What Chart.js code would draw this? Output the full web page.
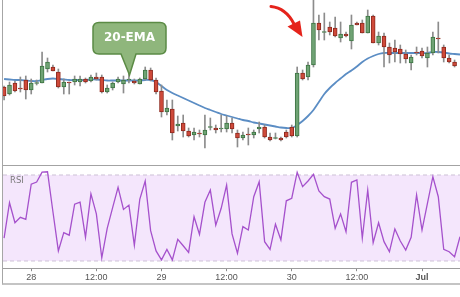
<!DOCTYPE html>
<html>
<head>
<meta charset="utf-8">
<script src="https://cdn.jsdelivr.net/npm/chart.js@4.4.1/dist/chart.umd.min.js"></script>
<style>
    html, body { margin: 0; padding: 0; background: #fff; }
    #wrap { position: relative; width: 460px; height: 297px; overflow: hidden; background: #fff; }
    #frame {
        position: absolute; left: 2px; top: -1px; width: 480px; height: 286px;
        box-sizing: border-box; border-left: 1px solid #a6a6a6; border-bottom: 2px solid #c4c4c4;
    }
    #price { position: absolute; left: 0; top: 0; }
    #rsi { position: absolute; left: 0; top: 166px; }
    #sep { position: absolute; left: 3px; top: 165px; width: 460px; height: 1px; background: #a3a3a3; }
    #rsiLabel {
        position: absolute; left: 10px; top: 175px; line-height: 10px;
        font: 8.5px "DejaVu Sans", sans-serif; color: #7a7a7a;
    }
    #notes { position: absolute; left: 0; top: 0; pointer-events: none; }
</style>
</head>
<body>
<div id="wrap">
    <canvas id="price" width="460" height="166"></canvas>
    <canvas id="rsi" width="460" height="118"></canvas>
    <div id="frame"></div>
    <div id="sep"></div>
    <div id="rsiLabel">RSI</div>
    <svg id="notes" width="460" height="297">
        <!-- 20-EMA callout -->
        <path d="M 99 22.5 H 160 Q 166 22.5 166 28.5 V 48 Q 166 54 160 54 H 136 L 129.5 75 L 121 54 H 99 Q 93 54 93 48 V 28.5 Q 93 22.5 99 22.5 Z"
              fill="#8fb67c" stroke="#5b8b45" stroke-width="1.5"/>
        <text x="129.5" y="41" text-anchor="middle" fill="#fff"
              font-family="DejaVu Sans, sans-serif" font-weight="bold" font-size="12">20-EMA</text>
        <!-- red arrow -->
        <path d="M 271 6.5 Q 286 8 294 24" fill="none" stroke="#e5231b" stroke-width="3" stroke-linecap="round"/>
        <polygon points="287.5,26.5 300,20.5 302.5,37" fill="#e5231b"/>
    </svg>
</div>

<script>
// hour offsets from 28th 00:00 (one candle per hour, last value is the right edge)
const hours = [
    -5, -4, -3, -2, -1, 0, 1, 2, 3, 4, 5, 6, 7, 8, 9, 10, 11, 12, 13, 14,
    15, 16, 17, 18, 19, 20, 21, 22, 23, 24, 25, 26, 27, 28, 29, 30, 31, 32, 33, 34,
    35, 36, 37, 38, 39, 40, 41, 42, 43, 44, 45, 46, 47, 48, 49, 50, 51, 52, 53, 54,
    55, 56, 57, 58, 59, 60, 61, 62, 63, 64, 65, 66, 67, 68, 69, 70, 71, 72, 73, 74,
    75, 76, 77, 78, 79
];

const tickHours = [0, 12, 24, 36, 48, 60, 72];
const tickLabels = ["28", "12:00", "29", "12:00", "30", "12:00", "Jul"];

const open = [
    113, 106, 117, 111.5, 120, 110, 116.5, 117, 131, 133, 128, 113, 118, 118, 118, 121, 119, 123, 123, 108,
    112, 118, 116, 120, 119, 116, 121, 130, 120, 109, 88, 91, 74, 77, 69, 65, 67, 65, 72.5, 72,
    71, 71, 77, 67, 62, 65.5, 65, 71, 73, 63, 61.5, 62, 68, 73, 64, 127, 123, 135, 177, 167.5,
    173, 172, 162, 166, 159, 177, 177, 167, 184, 157, 164, 153, 152, 151, 146, 137, 148, 149, 142, 147,
    161.5, 153, 142, 138
];
const high = [
    114, 118, 119, 123, 124, 121, 120, 148, 142, 135, 131, 121, 118, 124, 124, 122, 125, 127, 125, 115,
    118, 123, 124, 127, 121, 122, 133, 132, 122, 115, 100, 100, 84, 85, 72, 72, 70, 85, 82, 75,
    85, 84, 82, 70, 68, 72, 70, 78, 75, 67, 67, 63, 70, 75, 133, 130, 138, 202, 185, 187,
    178, 183, 178, 168, 185, 178, 180, 190, 185, 168, 167, 157, 160, 155, 150, 145, 153, 152, 153, 168,
    178, 155, 145, 140
];
const low = [
    100, 105, 108, 108, 101, 106, 115, 117, 128, 129, 112, 106, 106, 115, 114, 117, 118, 120, 107, 107,
    110, 117, 107, 117, 116, 116, 120, 119, 106, 83, 85, 60, 69, 63, 63, 60, 63, 52, 70, 67,
    68, 68, 67, 53, 60, 55, 62, 67, 62, 59, 61, 59, 62, 63, 63, 120, 120, 133, 160, 160,
    165, 163, 158, 163, 151, 175, 167, 167, 157, 155, 133, 137, 138, 137, 137, 130, 145, 142, 133, 145,
    147, 138, 137, 133
];
const close = [
    104, 115, 109, 111, 110, 117, 117, 134, 138, 129, 113, 118, 117, 121, 121, 118, 123, 121, 108, 112,
    117, 121, 120, 120.5, 117, 121, 130, 120, 108, 88, 92, 67, 76, 69, 64, 68, 66, 70, 73.5, 70,
    72, 77, 71, 62, 65, 65, 68, 73, 63, 60, 62, 60, 63, 64, 127, 121, 135, 177, 170, 168,
    168, 164, 166, 164, 175, 175, 167, 184, 157, 164, 153, 145, 148, 146, 141, 143, 147, 144, 147, 163,
    161, 142, 138, 134
];

// 20-period EMA
const ema = [
    121, 120.5, 120, 120, 119.5, 119, 119, 120, 121, 121.5, 121, 120.5, 120, 120, 120, 120, 120.5, 120.5, 120, 119.5,
    119.5, 119.5, 119.5, 119.5, 119.5, 119.5, 120, 120, 118, 114, 110, 107, 104.5, 102, 99.5, 97, 94.5, 92, 90, 88,
    86, 84.5, 83, 81.5, 80, 79, 77.5, 76.5, 75.5, 74.5, 73.5, 72.5, 72, 72, 75, 79, 84, 90, 98, 106,
    112, 117, 121.5, 126, 129.5, 133.5, 138, 141.5, 144, 146, 147, 147, 147, 147, 147, 147, 147, 147, 147, 148,
    148, 147.5, 146.5, 146, 145.5
];

const rsi = [
    40.6, 57.1, 47.8, 50.3, 49.4, 65.7, 66.7, 71.3, 71.5, 52.9,
    34.7, 43.2, 42, 56.4, 57.4, 41, 61.2, 51.9, 31.5, 45.2,
    54.8, 64.3, 54, 56, 37.3, 58.7, 67.2, 44.1, 34.7, 30.5,
    35.4, 30.5, 40.1, 37.1, 34, 50.6, 42.4, 57.3, 63, 46.7,
    54.5, 65.3, 42.6, 33.6, 46, 44.4, 59.9, 66.9, 39, 35.4,
    47.1, 39.8, 58, 59.2, 71.3, 64.6, 67.2, 70.3, 62.6, 59.9,
    58.8, 45.2, 51.9, 43.6, 66.6, 67.7, 40.6, 63, 38.5, 47.8,
    39, 34.3, 44.9, 39.3, 35.1, 41, 60.7, 44.4, 56.8, 69.2,
    59.9, 35.4, 34.3, 32, 41.3
];

const rsiLevels = [70, 30];

const X_MIN = -5.2;
const X_MAX = 79;

const upFill = "#6fa374", upEdge = "#3d7443";
const downFill = "#cf4a3a", downEdge = "#8e2a1f";

const candleHours = hours.slice(0, open.length);
const isUp = open.map((o, i) => close[i] >= o);

/* PRICE PANEL */
new Chart(document.getElementById("price").getContext("2d"), {
    type: "bar",
    data: {
        datasets: [
            {
                label: "Body",
                data: candleHours.map((h, i) => ({ x: h, y: [open[i], close[i]] })),
                backgroundColor: isUp.map(u => u ? upFill : downFill),
                borderColor: isUp.map(u => u ? upEdge : downEdge),
                borderWidth: 1,
                borderSkipped: false,
                barThickness: 4,
                minBarLength: 1,
                grouped: false,
                order: 0
            },
            {
                label: "Wick",
                data: candleHours.map((h, i) => ({ x: h, y: [low[i], high[i]] })),
                backgroundColor: "#8c8c8c",
                barThickness: 1,
                grouped: false,
                order: 1
            },
            {
                type: "line",
                label: "20-EMA",
                data: hours.map((h, i) => ({ x: h, y: ema[i] })),
                borderColor: "#5b8dc4",
                borderWidth: 1.8,
                pointRadius: 0,
                tension: 0.3,
                order: 2
            }
        ]
    },
    options: {
        responsive: false,
        animation: false,
        layout: { padding: { left: 3, right: 0, top: 0, bottom: 0 } },
        plugins: { legend: { display: false }, tooltip: { enabled: false } },
        scales: {
            x: { type: "linear", min: X_MIN, max: X_MAX, offset: false, display: false },
            y: { min: 34, max: 200, display: false }
        }
    }
});

/* RSI PANEL */
new Chart(document.getElementById("rsi").getContext("2d"), {
    type: "line",
    data: {
        datasets: [
            {
                label: "RSI",
                data: hours.map((h, i) => ({ x: h, y: rsi[i] })),
                borderColor: "#a551cc",
                borderWidth: 1.3,
                pointRadius: 0,
                fill: false
            },
            {
                label: "Overbought",
                data: [{ x: X_MIN, y: rsiLevels[0] }, { x: X_MAX, y: rsiLevels[0] }],
                borderColor: "#cdc1d6",
                borderWidth: 1,
                borderDash: [4, 3],
                pointRadius: 0,
                fill: false
            },
            {
                label: "Oversold",
                data: [{ x: X_MIN, y: rsiLevels[1] }, { x: X_MAX, y: rsiLevels[1] }],
                borderColor: "#cdc1d6",
                borderWidth: 1,
                borderDash: [4, 3],
                pointRadius: 0,
                backgroundColor: "#f4e6fc",
                fill: "-1"
            }
        ]
    },
    options: {
        responsive: false,
        animation: false,
        layout: { padding: { left: 3, right: 0, top: 1, bottom: 0 } },
        plugins: { legend: { display: false }, tooltip: { enabled: false } },
        scales: {
            x: {
                type: "linear",
                min: X_MIN,
                max: X_MAX,
                afterBuildTicks: scale => {
                    scale.ticks = tickHours.map(v => ({ value: v }));
                },
                grid: {
                    drawOnChartArea: false,
                    drawTicks: true,
                    tickLength: 3,
                    color: "#8a8a8a"
                },
                border: { display: true, color: "#9c9c9c", width: 1 },
                ticks: {
                    padding: 1,
                    color: "#555",
                    maxRotation: 0,
                    autoSkip: false,
                    font: c => ({
                        family: "Arial, 'Liberation Sans', sans-serif",
                        size: 9,
                        weight: c.tick && c.tick.value === 72 ? "bold" : "normal"
                    }),
                    callback: value => tickLabels[tickHours.indexOf(value)]
                }
            },
            y: { min: 26.65, max: 73.72, display: false }
        }
    }
});
</script>
</body>
</html>
